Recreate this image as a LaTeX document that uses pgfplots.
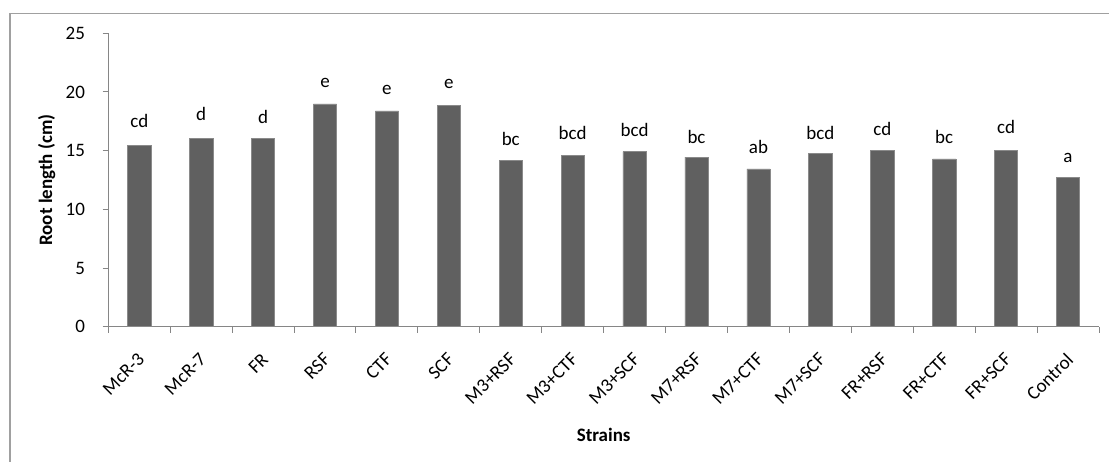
\documentclass[border=0pt]{standalone}
\usepackage{pgfplots}
\pgfplotsset{compat=1.18}
\usepackage{pgfplotstable}
\usepackage{fontspec}
\setmainfont{Carlito}
\definecolor{barc}{HTML}{606060}
\definecolor{edgec}{HTML}{8A8A8A}
\definecolor{axc}{HTML}{868686}
\definecolor{framec}{HTML}{A0A0A0}
\newcommand{\cf}{\fontsize{19}{23}\selectfont}

\pgfplotstableread{
x val
0 15.43
1 16.06
2 16.06
3 18.98
4 18.39
5 18.87
6 14.18
7 14.58
8 14.92
9 14.44
10 13.44
11 14.78
12 15.04
13 14.30
14 15.04
15 12.70
}\bars

\pgfplotstableread{
x pos lbl
0 16.94 cd
1 17.56 d
2 17.28 d
3 20.35 e
4 19.75 e
5 20.27 e
6 15.43 bc
7 15.92 bcd
8 16.20 bcd
9 15.63 bc
10 14.78 ab
11 15.98 bcd
12 16.26 cd
13 15.63 bc
14 16.49 cd
15 14.02 a
}\letters

\begin{document}
\begin{tikzpicture}
\useasboundingbox (0,0) rectangle (1109pt,461pt);
\draw[framec, line width=1.3pt] (10pt,-5pt) -- (10pt,447.7pt) -- (1120pt,447.7pt);
\begin{axis}[
  at={(108.3pt,134.3pt)}, anchor=south west,
  scale only axis, width=990.7pt, height=293.4pt,
  xmin=-0.5, xmax=15.5, ymin=0, ymax=25,
  axis x line*=bottom, axis y line*=left,
  axis line style={axc, line width=1pt},
  xtick={0,...,15},
  xticklabels={McR-3,McR-7,FR,RSF,CTF,SCF,M3+RSF,M3+CTF,M3+SCF,M7+RSF,M7+CTF,M7+SCF,FR+RSF,FR+CTF,FR+SCF,Control},
  minor xtick={-0.5,0.5,...,15.5},
  ytick={0,5,...,25},
  tick align=outside,
  major tick length=5.6pt,
  minor tick length=6pt,
  x tick style={draw=none},
  minor x tick style={draw=axc, line width=1pt},
  y tick style={draw=axc, line width=1pt},
  /pgf/number format/assume math mode=true,
  ticklabel style={font=\cf, text=black},
  xticklabel style={xshift=2pt, yshift=-24pt, rotate=45, anchor=east, inner sep=0pt},
  yticklabel style={anchor=east, inner sep=0pt, xshift=-17.5pt},
  xlabel={Strains}, ylabel={Root length (cm)},
  label style={font=\cf\bfseries},
  xlabel style={at={(axis description cs:0.5,-0.3896)}, anchor=base},
  ylabel style={at={(axis description cs:-0.0622,0.5)}, anchor=center},
  clip=false,
]
\addplot[ybar, bar width=23.3pt, fill=barc, draw=edgec, line width=0.6pt] table[x=x, y=val] {\bars};
\addplot[draw=none, mark=none, nodes near coords, point meta=explicit symbolic,
  every node near coord/.style={anchor=base, inner sep=0pt, font=\cf, text=black}]
  table[x=x, y=pos, meta=lbl] {\letters};
\end{axis}
\end{tikzpicture}
\end{document}
